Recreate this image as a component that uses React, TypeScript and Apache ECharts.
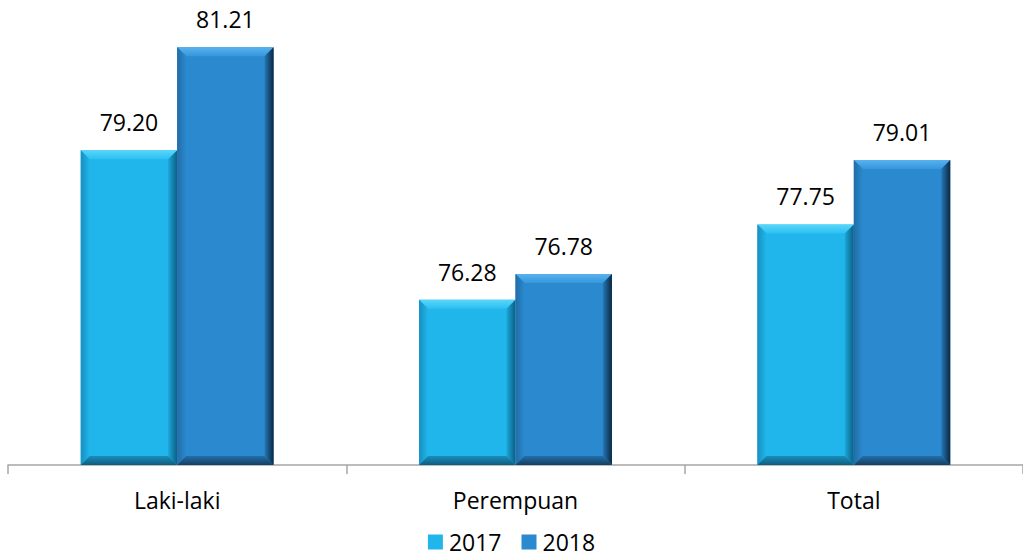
import React, { useEffect, useRef } from "react";
import * as echarts from "echarts";

const categories = ["Laki-laki", "Perempuan", "Total"];
const seriesNames = ["2017", "2018"];
const values2017 = [79.2, 76.28, 77.75];
const values2018 = [81.21, 76.78, 79.01];

const Y_MIN = 73.05;
const Y_MAX = 82;
const FONT = "'Open Sans', 'Noto Sans', sans-serif";
const FS = 23;

const palettes = [
  { face: "#20B6EC", top: ["#5AD6FA", "#2CC0F2"], left: ["#178FC0", "#20B6EC"], right: ["#1CA6DA", "#0C5E82"], bottom: ["#1A8DBC", "#0E5E80"] },
  { face: "#2B89CF", top: ["#58B2EE", "#3597DB"], left: ["#226CA6", "#2B89CF"], right: ["#2478B8", "#0B2740"], bottom: ["#236FA8", "#143F62"] },
];

function lin(x: number, y: number, x2: number, y2: number, c: string[]) {
  return new echarts.graphic.LinearGradient(x, y, x2, y2, [
    { offset: 0, color: c[0] },
    { offset: 1, color: c[1] },
  ]);
}

function makeRender(si: number) {
  return (params: any, api: any) => {
    const idx = api.value(0);
    const val = api.value(1);
    const top = api.coord([idx, val]);
    const base = api.coord([idx, Y_MIN]);
    const bandW = api.size([1, 0])[0];
    const w = bandW * 0.285;
    const x0 = si === 0 ? top[0] - w : top[0];
    const y0 = top[1];
    const h = base[1] - top[1];
    const b = 9;
    const p = palettes[si];
    return {
      type: "group",
      children: [
        { type: "rect", shape: { x: x0, y: y0, width: w, height: h }, style: { fill: p.face } },
        {
          type: "polygon",
          shape: { points: [[x0, y0], [x0 + w, y0], [x0 + w - b, y0 + b], [x0 + b, y0 + b]] },
          style: { fill: lin(0, 0, 0, 1, p.top) },
        },
        {
          type: "polygon",
          shape: { points: [[x0, y0], [x0 + b, y0 + b], [x0 + b, y0 + h - b], [x0, y0 + h]] },
          style: { fill: lin(0, 0, 1, 0, p.left) },
        },
        {
          type: "polygon",
          shape: { points: [[x0 + w, y0], [x0 + w, y0 + h], [x0 + w - b, y0 + h - b], [x0 + w - b, y0 + b]] },
          style: { fill: lin(0, 0, 1, 0, p.right) },
        },
        {
          type: "polygon",
          shape: { points: [[x0, y0 + h], [x0 + w, y0 + h], [x0 + w - b, y0 + h - b], [x0 + b, y0 + h - b]] },
          style: { fill: lin(0, 0, 0, 1, p.bottom) },
        },
        {
          type: "text",
          style: {
            x: x0 + w / 2,
            y: y0 - 28,
            text: val.toFixed(2),
            fill: "#000",
            font: `${FS}px ${FONT}`,
            align: "center",
            verticalAlign: "middle",
          },
        },
      ],
    };
  };
}

export default function App() {
  const ref = useRef<HTMLDivElement>(null);
  useEffect(() => {
    document.body.style.margin = "0";
    const chart = echarts.init(ref.current!, null, { renderer: "svg" });
    const dataSets = [values2017, values2018];
    chart.setOption({
      animation: false,
      backgroundColor: "#fff",
      textStyle: { fontFamily: FONT },
      grid: { left: 8, right: 0, top: 6.9, bottom: 92, containLabel: false },
      xAxis: {
        type: "category",
        data: categories,
        axisLine: { lineStyle: { color: "#A6A6A6", width: 1.5 } },
        axisTick: { show: true, length: 9, interval: 0, lineStyle: { color: "#A6A6A6", width: 1.5 } },
        axisLabel: { color: "#000", fontSize: FS, margin: 23, fontFamily: FONT },
      },
      yAxis: { type: "value", min: Y_MIN, max: Y_MAX, show: false, splitLine: { show: false } },
      legend: {
        bottom: 3,
        left: "center",
        padding: 0,
        itemWidth: 15,
        itemHeight: 15,
        itemGap: 20,
        icon: "rect",
        textStyle: { fontSize: FS, lineHeight: 24, color: "#000", fontFamily: FONT, padding: [0, 0, 0, 1] },
        data: seriesNames,
      },
      series: seriesNames.map((name, si) => ({
        type: "custom",
        name,
        renderItem: makeRender(si),
        itemStyle: { color: palettes[si].face },
        encode: { x: 0, y: 1 },
        data: dataSets[si].map((v, i) => [i, v]),
      })),
    });
    return () => chart.dispose();
  }, []);
  return <div ref={ref} style={{ width: 1023, height: 557 }} />;
}
